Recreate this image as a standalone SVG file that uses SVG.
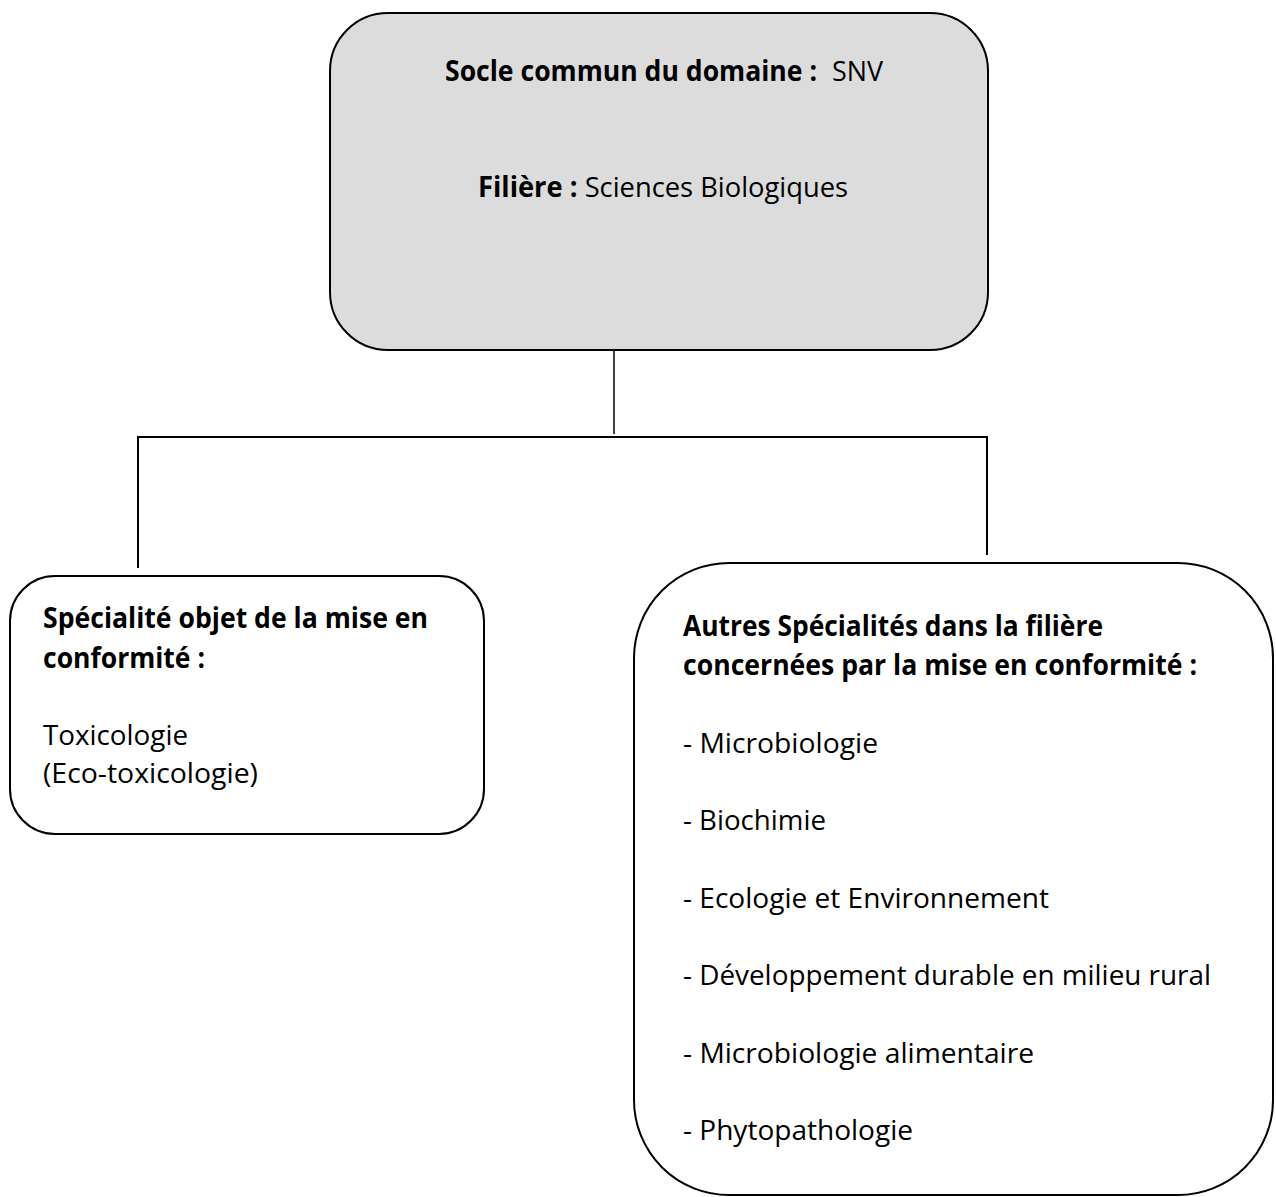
<svg xmlns="http://www.w3.org/2000/svg" width="1276" height="1197" viewBox="0 0 1276 1197">
<style>
.box{stroke:#000;stroke-width:2;fill:#fff}
.top{fill:#dcdcdc}
.t{font-family:"Open Sans","Liberation Sans",sans-serif;font-size:28px;fill:#000}
.b{font-weight:bold}
.c{stroke:#000;fill:none}
</style>
<rect width="1276" height="1197" fill="#fff"/>
<g id="connectors">
<line class="c" x1="614" y1="350" x2="614" y2="434" stroke-width="1.5"/>
<polyline class="c" points="138,568 138,437 987,437 987,555" stroke-width="2"/>
</g>
<g id="socle">
<rect class="box top" x="330" y="13" width="658" height="337" rx="58"/>
<text class="t b" x="445" y="81" textLength="372" lengthAdjust="spacingAndGlyphs">Socle commun du domaine :</text>
<text class="t" x="832" y="81" textLength="51" lengthAdjust="spacingAndGlyphs">SNV</text>
<text class="t" x="478" y="197" textLength="370" lengthAdjust="spacingAndGlyphs"><tspan class="b">Filière :</tspan> Sciences Biologiques</text>
</g>
<g id="specialite">
<rect class="box" x="10" y="576" width="474" height="258" rx="45"/>
<text class="t b" x="43" y="628" textLength="385" lengthAdjust="spacingAndGlyphs">Spécialité objet de la mise en</text>
<text class="t b" x="43" y="668" textLength="162" lengthAdjust="spacingAndGlyphs">conformité :</text>
<text class="t" x="43" y="745" textLength="145" lengthAdjust="spacingAndGlyphs">Toxicologie</text>
<text class="t" x="43" y="783" textLength="215" lengthAdjust="spacingAndGlyphs">(Eco-toxicologie)</text>
</g>
<g id="autres">
<rect class="box" x="634" y="563" width="639" height="632" rx="95"/>
<text class="t b" x="683" y="636" textLength="420" lengthAdjust="spacingAndGlyphs">Autres Spécialités dans la filière</text>
<text class="t b" x="683" y="675" textLength="514" lengthAdjust="spacingAndGlyphs">concernées par la mise en conformité :</text>
<text class="t" x="683" y="753" textLength="195" lengthAdjust="spacingAndGlyphs">- Microbiologie</text>
<text class="t" x="683" y="830" textLength="143" lengthAdjust="spacingAndGlyphs">- Biochimie</text>
<text class="t" x="683" y="908" textLength="366" lengthAdjust="spacingAndGlyphs">- Ecologie et Environnement</text>
<text class="t" x="683" y="985" textLength="528" lengthAdjust="spacingAndGlyphs">- Développement durable en milieu rural</text>
<text class="t" x="683" y="1063" textLength="351" lengthAdjust="spacingAndGlyphs">- Microbiologie alimentaire</text>
<text class="t" x="683" y="1140" textLength="230" lengthAdjust="spacingAndGlyphs">- Phytopathologie</text>
</g>
</svg>
